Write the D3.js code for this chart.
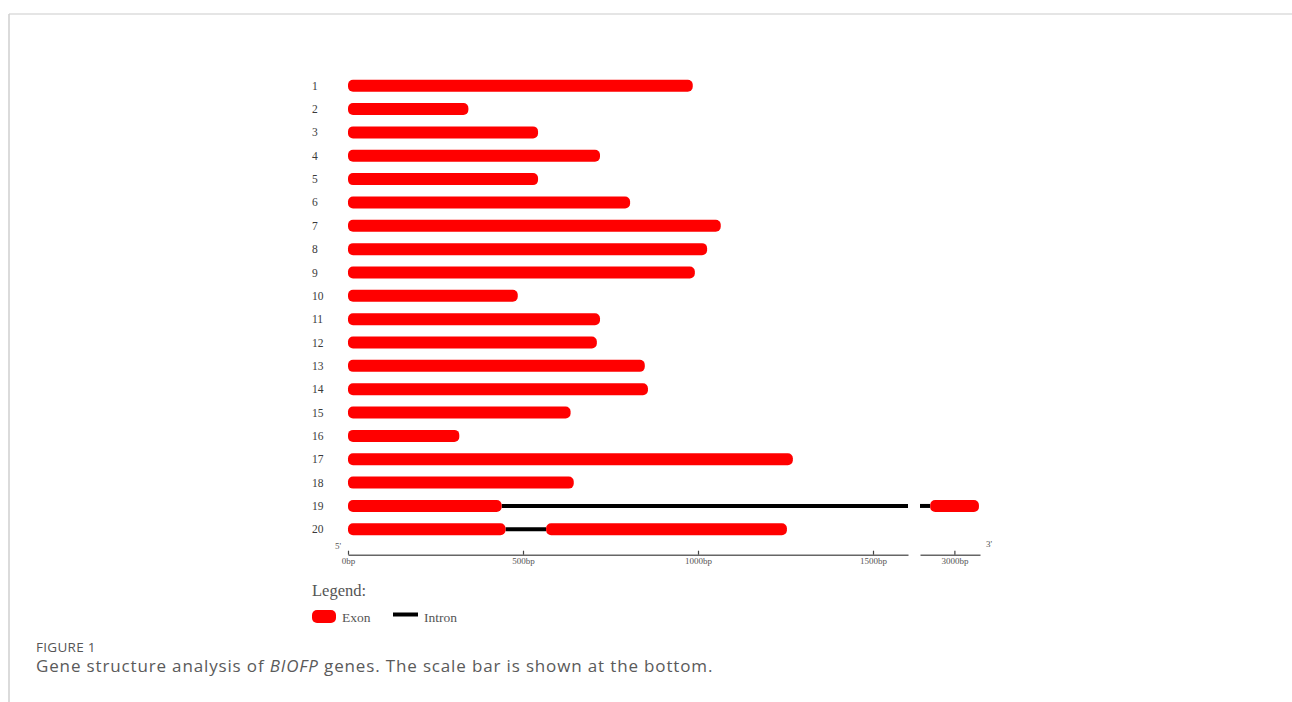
<!DOCTYPE html>
<html>
<head>
<meta charset="utf-8">
<script src="https://cdn.jsdelivr.net/npm/d3@7"></script>
<style>
  html, body { margin: 0; padding: 0; background: #fff; }
  svg { display: block; }
</style>
</head>
<body>
<svg id="chart" width="1292" height="702"></svg>
<script>
// ---- data ----
const geneIds = ["1","2","3","4","5","6","7","8","9","10","11","12","13","14","15","16","17","18","19","20"];
const exonStarts = [
  [0],[0],[0],[0],[0],[0],[0],[0],[0],[0],
  [0],[0],[0],[0],[0],[0],[0],[0],[0, 2931],[0, 566]
];
const exonEnds = [
  [985],[344],[543],[720],[543],[806],[1065],[1026],[991],[485],
  [720],[711],[848],[857],[636],[318],[1271],[645],[439, 3070],[450, 1254]
];
const tickValues = [0, 500, 1000, 1500, 3000];
const tickLabels = ["0bp", "500bp", "1000bp", "1500bp", "3000bp"];
const axisBreak = [1600, 2902];   // bp range omitted from the scale bar
const axisEnd = 3073;
const legendItems = ["Exon", "Intron"];
const captionLabel = "FIGURE 1";
const captionParts = [
  {t: "Gene structure analysis of ", i: false},
  {t: "BIOFP", i: true},
  {t: " genes. The scale bar is shown at the bottom.", i: false}
];

// ---- drawing ----
const svg = d3.select("#chart");
const serif = "'Liberation Serif', 'DejaVu Serif', serif";
const sans = "'Open Sans', 'Noto Sans', sans-serif";

// page frame
svg.append("line").attr("x1", 9).attr("x2", 1292).attr("y1", 14).attr("y2", 14)
  .attr("stroke", "#dcdcdc").attr("stroke-width", 1.5);
svg.append("line").attr("x1", 9).attr("x2", 9).attr("y1", 14).attr("y2", 702)
  .attr("stroke", "#cfcfcf").attr("stroke-width", 1.5);

// clip for figure image region
svg.append("clipPath").attr("id", "figclip")
  .append("rect").attr("x", 290).attr("y", 60).attr("width", 740).attr("height", 563);
const fig = svg.append("g").attr("clip-path", "url(#figclip)");

const xA = d3.scaleLinear().domain([0, axisBreak[0]]).range([348, 908]);
const xB = d3.scaleLinear().domain([axisBreak[1], axisEnd]).range([920, 980]);
const x = v => v <= axisBreak[0] ? xA(v) : xB(v);

const y = d3.scalePoint().domain(geneIds).range([85.7, 529.3]);

const barH = 12;
const rows = fig.append("g");

geneIds.forEach((id, i) => {
  const yy = y(id);
  const starts = exonStarts[i], ends = exonEnds[i];
  // introns between exons
  for (let k = 0; k < starts.length - 1; k++) {
    const a = ends[k], b = starts[k + 1];
    if (b > axisBreak[0] && a < axisBreak[0]) {
      rows.append("line").attr("x1", x(a)).attr("x2", xA(axisBreak[0]))
        .attr("y1", yy).attr("y2", yy).attr("stroke", "#000").attr("stroke-width", 4);
      rows.append("line").attr("x1", xB(axisBreak[1])).attr("x2", x(b))
        .attr("y1", yy).attr("y2", yy).attr("stroke", "#000").attr("stroke-width", 4);
    } else {
      rows.append("line").attr("x1", x(a)).attr("x2", x(b))
        .attr("y1", yy).attr("y2", yy).attr("stroke", "#000").attr("stroke-width", 4);
    }
  }
  starts.forEach((s, k) => {
    rows.append("rect")
      .attr("x", x(s)).attr("y", yy - barH / 2)
      .attr("width", x(ends[k]) - x(s)).attr("height", barH)
      .attr("rx", 5).attr("ry", 5)
      .attr("fill", "#ff0000");
  });
  rows.append("text").attr("x", 312).attr("y", yy).attr("dy", "0.35em")
    .attr("font-family", serif).attr("font-size", 11.5).attr("fill", "#3a3a3a")
    .text(id);
});

// scale bar (broken axis)
const axisY = 554.7;
const axA = d3.axisBottom(xA).tickValues(tickValues.filter(v => v <= axisBreak[0]))
  .tickFormat(v => tickLabels[tickValues.indexOf(v)])
  .tickSizeInner(-4).tickSizeOuter(0).tickPadding(3);
const axB = d3.axisBottom(xB).tickValues(tickValues.filter(v => v >= axisBreak[1]))
  .tickFormat(v => tickLabels[tickValues.indexOf(v)])
  .tickSizeInner(-4).tickSizeOuter(0).tickPadding(3);
[axA, axB].forEach(ax => {
  const g = fig.append("g").attr("transform", `translate(0,${axisY})`).call(ax);
  g.select(".domain").attr("stroke", "#666").attr("stroke-width", 1.6);
  g.selectAll(".tick line").attr("stroke", "#444").attr("stroke-width", 1.2);
  g.selectAll(".tick text").attr("font-family", serif).attr("font-size", 9).attr("fill", "#555");
});
fig.append("text").attr("x", 335).attr("y", 549).attr("font-family", serif)
  .attr("font-size", 9).attr("fill", "#555").text("5'");
fig.append("text").attr("x", 986).attr("y", 547).attr("font-family", serif)
  .attr("font-size", 9).attr("fill", "#555").text("3'");

// legend
fig.append("text").attr("x", 312).attr("y", 596).attr("font-family", serif)
  .attr("font-size", 16.5).attr("fill", "#555").text("Legend:");
fig.append("rect").attr("x", 312).attr("y", 610).attr("width", 24).attr("height", 13)
  .attr("rx", 5).attr("fill", "#ff0000");
fig.append("text").attr("x", 342).attr("y", 621.5).attr("font-family", serif)
  .attr("font-size", 13.5).attr("fill", "#555").text(legendItems[0]);
fig.append("line").attr("x1", 393).attr("x2", 418).attr("y1", 614.5).attr("y2", 614.5)
  .attr("stroke", "#000").attr("stroke-width", 4);
fig.append("text").attr("x", 424).attr("y", 621.5).attr("font-family", serif)
  .attr("font-size", 13.5).attr("fill", "#555").text(legendItems[1]);

// caption
svg.append("text").attr("x", 36).attr("y", 652).attr("font-family", sans)
  .attr("font-size", 13.5).attr("letter-spacing", 0.3).attr("fill", "#555").text(captionLabel);
const cap = svg.append("text").attr("x", 36).attr("y", 672).attr("font-family", sans)
  .attr("font-size", 17).attr("letter-spacing", 0.85).attr("fill", "#5a5a5a");
captionParts.forEach(p => {
  cap.append("tspan").attr("font-style", p.i ? "italic" : "normal").text(p.t);
});
</script>
</body>
</html>
